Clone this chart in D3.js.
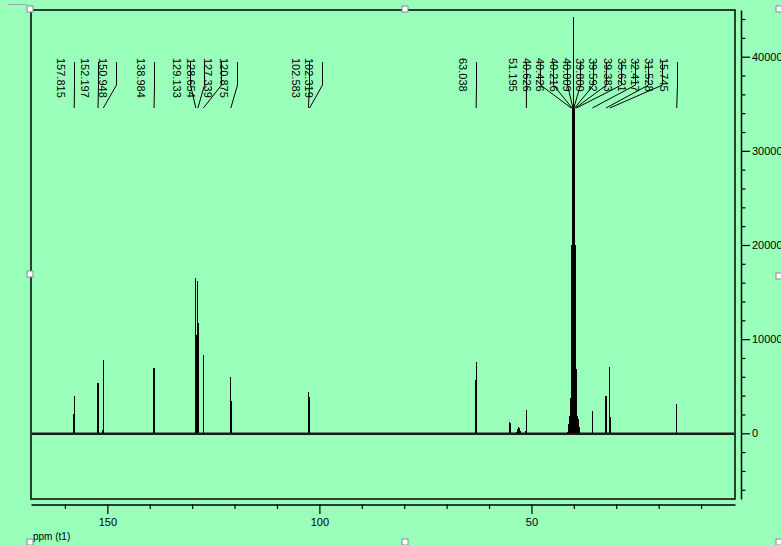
<!DOCTYPE html>
<html>
<head>
<meta charset="utf-8">
<script src="https://cdn.jsdelivr.net/npm/d3@7"></script>
<style>
  html, body { margin: 0; padding: 0; background: #99FFBB; }
  svg { display: block; }
  text { font-family: "Liberation Sans", Arial, sans-serif; }
</style>
</head>
<body>
<script>
// ---------------- DATA ----------------
// 13C NMR peaks: chemical shift (ppm) and intensity
const peakPpm    = [157.815, 152.197, 150.948, 138.984, 129.133, 128.654, 127.339, 120.875,
                    102.583, 102.319, 63.038, 55.07, 53.0, 51.195,
                    40.626, 40.426, 40.216, 40.009, 39.800, 39.592, 39.383,
                    40.9, 39.1,
                    35.621, 32.417, 31.528, 15.745];
const peakHeight = [3930, 5370, 7790, 6900, 16500, 16150, 8320, 5950,
                    4420, 3900, 7600, 1230, 600, 2470,
                    6800, 20000, 34500, 44200, 34500, 20000, 6800,
                    1800, 1800,
                    2400, 3960, 7010, 3110];
// peak half-width at base (ppm)
const peakWidth  = [0.06, 0.06, 0.06, 0.06, 0.08, 0.08, 0.06, 0.06,
                    0.06, 0.06, 0.06, 0.1, 0.5, 0.08,
                    0.06, 0.06, 0.06, 0.06, 0.06, 0.06, 0.06,
                    0.5, 0.5,
                    0.08, 0.06, 0.06, 0.06];

// Peak-pick labels and the shift (ppm) where each label's leader line starts
const labelValues = [157.815, 152.197, 150.948, 138.984, 129.133, 128.654, 127.339, 120.875,
                     102.583, 102.319, 63.038, 51.195,
                     40.626, 40.426, 40.216, 40.009, 39.800, 39.592, 39.383,
                     35.621, 32.417, 31.528, 15.745];
const labelAnchorPpm = [157.9, 152.3, 148.0, 139.1, 130.6, 127.2, 123.3, 119.5,
                        102.4, 99.5, 63.05, 51.2,
                        48.0, 44.9, 41.7, 38.6, 35.4, 32.3, 28.8,
                        25.6, 22.5, 19.3, 15.7];

const xDomain = [168, 2];
const yDomain = [-6980, 44960];
const xTicks = [160, 150, 140, 130, 120, 110, 100, 90, 80, 70, 60, 50, 40, 30, 20, 10];
const xTickLabels = [150, 100, 50];
const yTicks = d3.range(-6000, 44001, 2000);
const yTickLabels = [0, 10000, 20000, 30000, 40000];
const xAxisTitle = "ppm (t1)";

// ---------------- LAYOUT ----------------
const W = 781, H = 545;
const plot = { left: 31, right: 735, top: 10, bottom: 499 };

const svg = d3.select("body").append("svg")
  .attr("width", W).attr("height", H);

svg.append("rect").attr("width", W).attr("height", H).attr("fill", "#99FFBB");

const x = d3.scaleLinear().domain(xDomain).range([plot.left, plot.right]);
const y = d3.scaleLinear().domain(yDomain).range([plot.bottom, plot.top]);

// frame
svg.append("rect")
  .attr("x", plot.left).attr("y", plot.top)
  .attr("width", plot.right - plot.left).attr("height", plot.bottom - plot.top)
  .attr("fill", "none").attr("stroke", "#000").attr("stroke-width", 1.5);

// spectrum baseline
svg.append("line")
  .attr("x1", x(xDomain[0]) + 1).attr("x2", x(xDomain[1]) - 1)
  .attr("y1", y(0) + 0.5).attr("y2", y(0) + 0.5)
  .attr("stroke", "#1c1c1c").attr("stroke-width", 2.6);

// peaks
const line = d3.line().x(d => x(d[0])).y(d => y(d[1]));
const gPeaks = svg.append("g");
peakPpm.forEach((p, i) => {
  const w = peakWidth[i];
  gPeaks.append("path")
    .attr("d", line([[p + w, 0], [p, peakHeight[i]], [p - w, 0]]))
    .attr("fill", peakWidth[i] > 0.3 ? "#000" : "none")
    .attr("stroke", "#000")
    .attr("stroke-width", 1.1)
    .attr("shape-rendering", "crispEdges");
});

// peak labels with leader lines
const gLab = svg.append("g");
labelValues.forEach((v, i) => {
  const ax = Math.round(x(labelAnchorPpm[i])) + 0.5;
  const px = x(v);
  gLab.append("path")
    .attr("d", `M${ax},62 L${ax},85 L${px},108`)
    .attr("fill", "none").attr("stroke", "#000").attr("stroke-width", 1);
  const tx = ax - 13.5;
  gLab.append("text")
    .attr("transform", `translate(${tx},58) rotate(90)`)
    .attr("dominant-baseline", "central")
    .attr("font-size", 11)
    .attr("fill", "#000")
    .text(v.toFixed(3));
});

// bottom axis
const xAxis = d3.axisBottom(x)
  .tickValues(xTicks)
  .tickSizeInner(9).tickSizeOuter(0).tickPadding(5)
  .tickFormat(d => xTickLabels.includes(d) ? d : "");
const gx = svg.append("g")
  .attr("transform", `translate(0,504.5)`)
  .call(xAxis);
gx.selectAll(".tick line").attr("y2", d => xTickLabels.includes(d) ? 9.5 : 4.5)
  .attr("stroke-width", 1.2);
gx.select(".domain").attr("stroke-width", 1.5);
gx.selectAll("text").attr("font-size", 11).attr("font-family", "Liberation Sans, Arial, sans-serif").attr("fill", "#000");

// right axis
const yAxis = d3.axisRight(y)
  .tickValues(yTicks)
  .tickSizeInner(9).tickSizeOuter(0).tickPadding(2)
  .tickFormat(d => yTickLabels.includes(d) ? d3.format("d")(d) : "");
const gy = svg.append("g")
  .attr("transform", `translate(741,0)`)
  .call(yAxis);
gy.selectAll(".tick line").attr("x2", d => yTickLabels.includes(d) ? 9 : 4.5)
  .attr("stroke-width", 1.2);
gy.select(".domain").attr("stroke-width", 1.5);
gy.selectAll("text").attr("font-size", 11).attr("font-family", "Liberation Sans, Arial, sans-serif").attr("fill", "#000");

// axis title
svg.append("text")
  .attr("x", 33).attr("y", 540)
  .attr("font-size", 10).attr("fill", "#000")
  .text(xAxisTitle);

// selection handles
const handles = [[30, 9], [405, 9], [779, 9], [30, 274], [779, 276], [30, 542], [405, 542], [779, 542]];
svg.append("g").selectAll("rect").data(handles).join("rect")
  .attr("x", d => d[0] - 3).attr("y", d => d[1] - 3)
  .attr("width", 6).attr("height", 6)
  .attr("fill", "#fff").attr("stroke", "#8a8a8a").attr("stroke-width", 1);

// faint guide at top-left
svg.append("path")
  .attr("d", "M8,4.5 L27,4.5")
  .attr("stroke", "#9aa89f").attr("stroke-width", 1).attr("fill", "none");
</script>
</body>
</html>
